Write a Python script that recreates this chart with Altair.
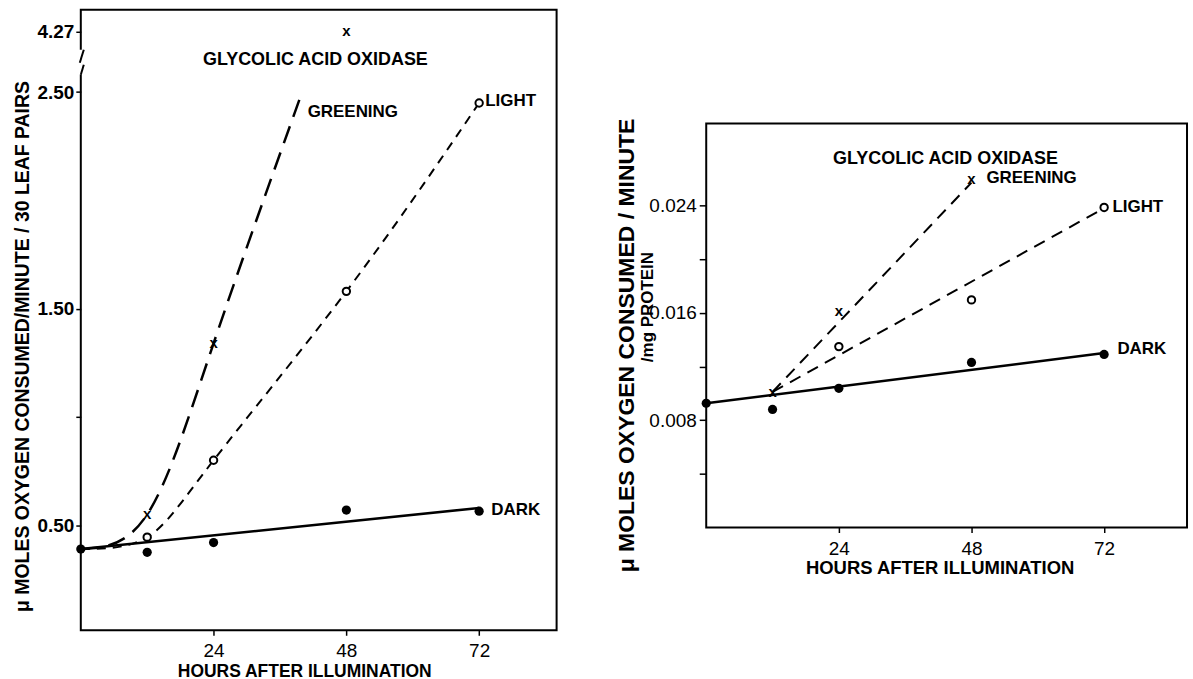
import altair as alt
import pandas as pd

FONT = "Liberation Sans"

# ---------------- data: left panel (per 30 leaf pairs) ----------------
hours = [0, 12, 24, 48, 72]
left_dark = [0.39, 0.375, 0.42, 0.57, 0.565]
left_dark_fit_hours = [0, 72]
left_dark_fit = [0.39, 0.58]
left_light_hours = [12, 24, 48, 72]
left_light = [0.445, 0.80, 1.58, 2.45]
left_light_curve_hours = [0, 12, 24, 48, 72]
left_light_curve = [0.39, 0.445, 0.80, 1.58, 2.45]
left_green_hours = [12, 24, 48]
left_green = [0.55, 1.34, 4.27]
left_green_curve_hours = [0, 12, 24, 40]
left_green_curve = [0.39, 0.55, 1.34, 2.50]
left_y_ticks = [0.5, 1.0, 1.5, 2.5, 4.27]
left_x_ticks = [24, 48, 72]

# ---------------- data: right panel (per mg protein) ----------------
right_dark = [0.00926, 0.0088, 0.01037, 0.0123, 0.0129]
right_dark_fit_hours = [0, 72]
right_dark_fit = [0.00926, 0.0130]
right_light_hours = [24, 48, 72]
right_light = [0.01348, 0.01696, 0.02385]
right_light_fit_hours = [12, 72]
right_light_fit = [0.0101, 0.0238]
right_green_hours = [12, 24, 48]
right_green = [0.0101, 0.01615, 0.0260]
right_green_fit_hours = [12, 48]
right_green_fit = [0.0101, 0.0257]
right_y_ticks = [0.004, 0.008, 0.012, 0.016, 0.020, 0.024]
right_x_ticks = [24, 48, 72]

# broken left axis: values above the break are drawn at this position
BREAK_AT = 2.6
BREAK_POS = 2.78


def disp(v):
    return v if v <= BREAK_AT else BREAK_POS


left_title_lbl = pd.DataFrame([{"h": 42.4, "v": 2.65, "t": "GLYCOLIC ACID OXIDASE"}])
left_labels = pd.DataFrame([
    {"h": 41.0, "v": 2.41, "t": "GREENING"},
    {"h": 73.1, "v": 2.46, "t": "LIGHT"},
    {"h": 74.2, "v": 0.57, "t": "DARK"},
])
right_title_lbl = pd.DataFrame([{"h": 43.3, "v": 0.02748, "t": "GLYCOLIC ACID OXIDASE"}])
right_labels = pd.DataFrame([
    {"h": 50.7, "v": 0.02607, "t": "GREENING"},
    {"h": 73.5, "v": 0.02385, "t": "LIGHT"},
    {"h": 74.4, "v": 0.01333, "t": "DARK"},
])


def df(xs, ys):
    return pd.DataFrame({"h": xs, "v": ys})


xn = alt.X("h:Q")
yn = alt.Y("v:Q")


def text_layer(data, align, size):
    return alt.Chart(data).mark_text(
        font=FONT, fontWeight="bold", fontSize=size, baseline="middle",
        align=align, color="black").encode(x=xn, y=yn, text="t:N")


# ---------------- left panel ----------------
LW, LH = 477, 622
lx = alt.X("h:Q", scale=alt.Scale(domain=[0, 86], nice=False, zero=False),
           axis=alt.Axis(values=left_x_ticks, title="HOURS AFTER ILLUMINATION",
                         labelPadding=6, titlePadding=2, titleX=224, titleFontSize=17.5))
ly_ticks_disp = [disp(v) for v in left_y_ticks]
ly = alt.Y("v:Q", scale=alt.Scale(domain=[0.015, 2.88], nice=False, zero=False),
           axis=alt.Axis(values=ly_ticks_disp,
                         labelExpr="datum.value > 2.7 ? '4.27' : (datum.value == 1 ? '' : format(datum.value, '.2f'))",
                         title="\u03bc MOLES OXYGEN CONSUMED/MINUTE / 30 LEAF PAIRS",
                         titleFontSize=19.5, titleX=-58, titleY=337, titleBaseline="middle",
                         labelFontWeight="bold"))

l_dark_fit = alt.Chart(df(left_dark_fit_hours, left_dark_fit)).mark_line(
    color="black", strokeWidth=2.5).encode(x=lx, y=ly)
l_light_curve = alt.Chart(df(left_light_curve_hours, left_light_curve)).mark_line(
    color="black", strokeWidth=2, strokeDash=[9, 7], interpolate="natural").encode(x=xn, y=yn)
l_green_curve = alt.Chart(df(left_green_curve_hours, left_green_curve)).mark_line(
    color="black", strokeWidth=2.5, strokeDash=[18, 10], interpolate="natural").encode(x=xn, y=yn)
l_dark_pts = alt.Chart(df(hours, left_dark)).mark_point(
    filled=True, color="black", size=85, opacity=1).encode(x=xn, y=yn)
l_light_pts = alt.Chart(df(left_light_hours, left_light)).mark_point(
    shape="circle", filled=False, fill="white", stroke="black", strokeWidth=2, size=55, opacity=1).encode(x=xn, y=yn)
l_green_pts = alt.Chart(df(left_green_hours, [disp(v) for v in left_green])).mark_text(
    text="x", font=FONT, fontWeight="bold", fontSize=15, baseline="middle", color="black").encode(x=xn, y=yn)
l_break_white = alt.Chart(df([0], [0])).mark_rule(color="white", strokeWidth=8).encode(
    x=alt.value(0), y=alt.value(40), y2=alt.value(65))
l_break_a = alt.Chart(df([0], [0])).mark_rule(color="black", strokeWidth=2).encode(
    x=alt.value(3), x2=alt.value(-1), y=alt.value(40), y2=alt.value(53))
l_break_b = alt.Chart(df([0], [0])).mark_rule(color="black", strokeWidth=2).encode(
    x=alt.value(3), x2=alt.value(0), y=alt.value(55), y2=alt.value(65))

left = alt.layer(l_dark_fit, l_light_curve, l_green_curve, l_break_white, l_break_a, l_break_b,
                 l_dark_pts, l_light_pts, l_green_pts,
                 text_layer(left_title_lbl, "center", 18),
                 text_layer(left_labels, "left", 17)).properties(width=LW, height=LH)

# ---------------- right panel ----------------
RW, RH = 482, 405
rx = alt.X("h:Q", scale=alt.Scale(domain=[0, 87], nice=False, zero=False),
           axis=alt.Axis(values=right_x_ticks, title="HOURS AFTER ILLUMINATION",
                         labelPadding=7, titlePadding=0, titleX=234, titleFontSize=18.5))
ry = alt.Y("v:Q", scale=alt.Scale(domain=[0, 0.0301], nice=False, zero=False),
           axis=alt.Axis(values=right_y_ticks,
                         labelExpr="round(datum.value * 1000) % 8 == 0 ? format(datum.value, '.3f') : ''",
                         title="\u03bc MOLES OXYGEN CONSUMED / MINUTE",
                         titleFontSize=23, titleX=-80, titleY=222, titleBaseline="middle",
                         tickSize=7, labelPadding=3))

r_dark_fit = alt.Chart(df(right_dark_fit_hours, right_dark_fit)).mark_line(
    color="black", strokeWidth=2.5).encode(x=rx, y=ry)
r_light_fit = alt.Chart(df(right_light_fit_hours, right_light_fit)).mark_line(
    color="black", strokeWidth=2, strokeDash=[12, 8]).encode(x=xn, y=yn)
r_green_fit = alt.Chart(df(right_green_fit_hours, right_green_fit)).mark_line(
    color="black", strokeWidth=2, strokeDash=[12, 8]).encode(x=xn, y=yn)
r_dark_pts = alt.Chart(df(hours, right_dark)).mark_point(
    filled=True, color="black", size=85, opacity=1).encode(x=xn, y=yn)
r_light_pts = alt.Chart(df(right_light_hours, right_light)).mark_point(
    shape="circle", filled=False, fill="white", stroke="black", strokeWidth=2, size=55, opacity=1).encode(x=xn, y=yn)
r_green_pts = alt.Chart(df(right_green_hours, right_green)).mark_text(
    text="x", font=FONT, fontWeight="bold", fontSize=15, baseline="middle", color="black").encode(x=xn, y=yn)
r_title2 = alt.Chart(df([0], [0])).mark_text(
    text="/mg PROTEIN", font=FONT, fontWeight="bold", fontSize=17, angle=270,
    baseline="middle", align="center", color="black").encode(x=alt.value(-58), y=alt.value(184))

right = alt.layer(r_dark_fit, r_light_fit, r_green_fit, r_dark_pts, r_light_pts,
                  r_green_pts, text_layer(right_title_lbl, "center", 18),
                  text_layer(right_labels, "left", 17), r_title2).properties(width=RW, height=RH)

spacer = alt.Chart(df([0], [0])).mark_point(opacity=0, size=1).encode(
    x=alt.value(40), y=alt.value(40)).properties(
    width=RW, height=106, view=alt.ViewBackground(stroke="transparent"))

right_col = alt.vconcat(spacer, right, spacing=0)

chart = alt.hconcat(left, right_col, spacing=56).properties(
    padding={"left": 12, "top": 8, "right": 5, "bottom": 5},
    background="white",
).configure_view(stroke="black", strokeWidth=2).configure_axis(
    domain=False, grid=False, ticks=True, tickColor="black", tickWidth=1.5, tickSize=5,
    labelFont=FONT, labelFontSize=19, labelColor="black", labelPadding=2,
    titleFont=FONT, titleFontSize=17, titleFontWeight="bold", titleColor="black",
)

chart.save("out.html", embed_options={"renderer": "svg", "actions": False})
